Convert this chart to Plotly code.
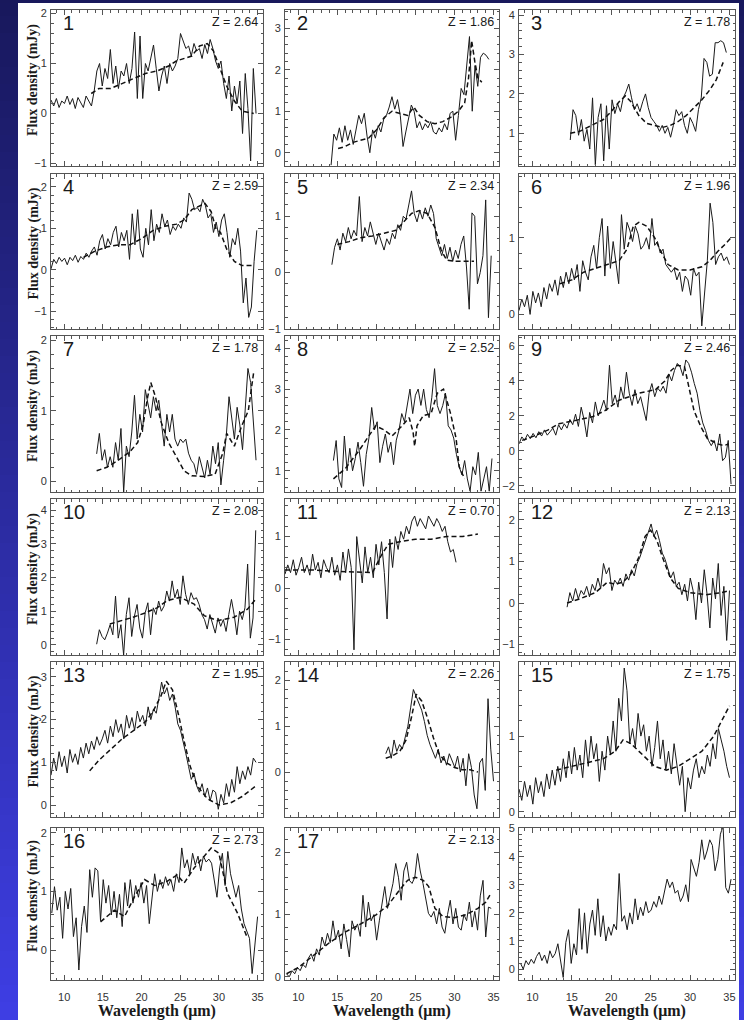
import numpy as np
import plotly.graph_objects as go

# ---------------- data ----------------
panel_labels = ["1", "2", "3", "4", "5", "6", "7", "8", "9", "10", "11", "12",
                "13", "14", "15", "16", "17", ""]
redshifts = ["2.64", "1.86", "1.78", "2.59", "2.34", "1.96", "1.78", "2.52", "2.46",
             "2.08", "0.70", "2.13", "1.95", "2.26", "1.75", "2.73", "2.13", ""]
y_ranges = [[-1.05, 2.07], [-0.32, 3.44], [0.17, 4.13], [-1.43, 2.31], [-1.001, 1.75],
            [-0.19, 1.83], [-0.15, 2.06], [0.48, 4.3], [-2.35, 6.57], [-0.3, 4.33],
            [-1.3, 1.73], [-1.25, 2.5], [-0.28, 3.35], [-0.98, 2.4], [-0.07, 1.98],
            [-0.51, 2.08], [-0.05, 2.39], [-0.39, 5.02]]
y_dticks = [1, 1, 1, 1, 1, 1, 1, 1, 2, 1, 1, 1, 1, 1, 1, 1, 1, 1]
x_ticks = [10, 15, 20, 25, 30, 35]

# observed spectra: first / last wavelength (micron) and flux values (mJy)
spec_start = [8.3, 14.2, 14.8, 8.3, 14.3, 8.3, 14.2, 14.5, 8.3, 14.2, 8.3, 14.4,
              8.3, 21.2, 8.3, 8.4, 8.5, 8.5]
spec_end = [34.8, 34.4, 34.6, 34.9, 34.7, 35.0, 34.8, 34.8, 35.2, 34.76, 30.2, 35.0,
            34.8, 35.0, 35.0, 35.0, 34.7, 35.2]

spec_01 = [0.27, 0.15, 0.3, 0.12, 0.25, 0.2, 0.35, 0.18, 0.3, 0.1, 0.32, 0.22, 0.12, 0.35, 0.25, 0.15,
           0.45, 0.85, 1.0, 0.55, 0.9, 0.7, 1.28, 0.6, 0.95, 0.5, 0.85, 0.75, 1.0, 0.6, 0.9,
           1.63, 0.3, 1.55, 0.3, 1.0, 0.85,
           1.1, 1.37, 0.9, 0.45, 0.75, 0.95, 0.6, 1.0, 0.85,
           0.95, 1.1, 1.6, 1.45, 1.3, 1.35,
           1.15, 1.4, 1.25, 1.3, 1.1, 1.38, 1.2, 1.48, 1.3, 1.05,
           0.9, 1.05, 0.6, 0.3, 0.75, 0.05, 0.55, 0.2, 0.65, -0.4, 0.8, 0.1, -0.95, 0.9, 0.0]
spec_02 = [-0.3, 0.45, 0.3, 0.6, 0.25, 0.65,
           0.3, 0.55, 0.2, 0.6, 0.9, 0.7,
           0.95, 0.4, 0.0, 0.55, 0.35, 0.65, 0.5,
           0.8, 0.9, 1.1, 1.35, 1.05, 1.28, 0.9,
           0.15, 0.5, 0.85, 1.15, 1.0, 0.6, 0.75,
           0.55, 0.7, 0.6, 0.75, 0.5, 0.45, 0.6, 0.5, 0.7, 0.55, 0.95,
           1.0, 0.3, 0.9, 1.55, 1.4, 2.1, 2.8, 1.0, 2.1, 1.6, 2.3, 2.4, 2.35, 2.25]
spec_03 = [0.83, 1.6, 1.45, 0.95, 1.35, 0.8, 1.1,
           0.6, 1.9, 0.2, 1.4, 1.75, 0.3, 1.7, 0.6, 1.85, 1.5,
           1.75, 1.55, 1.9, 2.05, 2.25, 1.9, 1.6, 1.75, 1.55,
           1.8, 2.0, 1.65, 1.4, 1.3, 1.2, 1.05, 1.2, 1.0, 1.15,
           0.9, 1.2, 1.6, 1.45, 1.55, 1.2, 1.0, 1.4, 1.25, 1.05,
           1.6, 1.9, 2.9, 2.8, 2.45, 2.5, 3.3, 3.3, 3.35, 3.3, 3.05]
spec_04 = [0.02, 0.25, 0.15, 0.3, 0.2, 0.28, 0.12, 0.3, 0.22, 0.35, 0.18, 0.32, 0.25, 0.4,
           0.3, 0.45, 0.55, 0.35, 0.7, 0.85, 0.5, 0.75, 0.6, 0.9,
           1.05, 0.55, 0.9, 0.7, 0.95, 0.25, 1.35, 0.6, 1.45, 0.5, 0.3,
           1.0, 0.6, 1.45, 0.7, 1.1, 0.9, 1.35, 1.05, 1.2,
           0.85, 1.05, 0.95, 1.1, 1.0, 1.25, 1.15, 1.85, 1.7, 1.45,
           1.5, 1.4, 1.7, 1.55, 1.25, 1.35, 0.9, 1.15, 0.8, 1.2,
           1.35, 0.9, 0.3, 0.75, 0.6, 1.0, 0.45, -0.8, -0.2, -1.15, -0.9, 0.2, 0.95]
spec_05 = [0.14, 0.45, 0.6, 0.4, 0.7, 0.55, 0.8, 0.6, 0.75,
           0.65, 1.35, 0.55, 0.8, 0.65, 0.9, 0.7, 0.5, 0.7,
           0.55, 0.4, 0.6, 0.5, 0.7, 0.6, 0.85, 0.75, 1.0, 0.95,
           1.2, 1.45, 1.05, 0.9, 1.1, 0.95, 1.15, 1.0, 1.2, 1.05,
           0.6, 0.45, 0.3, 0.5, 0.25, 0.45, 0.2, 0.4, 0.25, 0.5,
           0.65, 0.1, -0.65, 1.06, 1.0, -0.2, 0.0, 0.3, 1.29, -0.8, 0.3]
spec_06 = [0.05, 0.2, 0.1, 0.25, 0.0, 0.3, 0.15, 0.28, 0.1, 0.35,
           0.2, 0.4, 0.3, 0.45, 0.25, 0.5, 0.35, 0.55,
           0.4, 0.6, 0.45, 0.65, 0.3, 0.7, 0.55, 0.45, 0.75,
           0.9, 0.6, 1.0, 1.25, 0.5, 1.15, 0.6, 0.95, 0.7, 0.4,
           1.3, 0.85, 1.2, 1.1, 0.95, 1.15, 1.05, 0.85, 0.9,
           1.0, 0.85, 1.25, 0.9, 0.95, 0.8, 0.85, 0.65, 0.6,
           0.55, 0.6, 0.45, 0.55, 0.3, 0.5, 0.45, 0.25, 0.6, 0.5,
           0.55, -0.15, 0.3, 0.7, 1.45, 1.2, 0.65, 0.75, 0.8, 0.7, 0.75, 0.65]
spec_07 = [0.39, 0.68, 0.3, 0.45, 0.2, 0.35, 0.2, 0.55,
           0.3, 0.75, -0.15, 0.5, 0.35, 0.7, 1.22, 0.6, 0.95,
           0.7, 1.3, 1.1, 0.9, 1.2, 1.0, 1.15, 0.85, 0.5,
           0.95, 0.7, 0.95, 0.6, 0.5, 0.6, 0.55, 0.6, 0.4, 0.3,
           0.25, 0.1, 0.35, 0.2, 0.05, 0.3, 0.1, 0.5, 0.25, 0.55, -0.05,
           0.3, 0.65, 1.2, 0.9, 0.6, 1.05, 0.8, 0.45, 1.0, 1.6, 1.4, 0.8, 0.3]
spec_08 = [1.25, 1.74, 0.8, 0.59, 1.85, 1.0, 1.55, 1.0, 1.3,
           1.7, 1.2, 0.62, 1.4, 1.8, 2.55, 2.0, 2.2, 1.2,
           1.6, 1.9, 1.45, 1.7, 1.15, 1.75, 2.0, 2.4, 2.2,
           2.6, 3.0, 2.4, 2.85, 3.0, 2.6, 3.0, 2.5, 2.3, 2.8,
           3.5, 2.6, 2.4, 2.6, 2.9, 2.1, 2.0, 1.8, 1.4, 1.1,
           0.9, 1.25, 0.8, 0.5, 1.1, 0.9, 1.45, 0.5, 0.8, 1.1, 0.5, 1.3]
spec_09 = [0.4, 0.8, 0.6, 0.95, 0.7, 1.0, 0.75, 1.1, 0.85, 1.2, 0.9,
           1.07, 1.3, 0.9, 1.5, 1.2, 1.55, 1.3, 1.8, 1.5,
           2.1, 1.4, 2.5, 1.8, 0.8, 2.2, 1.6, 2.8, 2.0,
           2.4, 2.9, 2.3, 4.9, 2.7, 3.2, 2.5, 3.66,
           3.0, 4.5, 3.3, 2.6, 3.5, 2.7, 3.1, 2.4, 1.74,
           3.3, 3.85, 3.1, 3.6, 3.4, 3.7, 3.3, 4.4,
           4.0, 4.6, 5.0, 4.8, 4.3, 5.2, 5.0, 4.5, 3.85, 3.3,
           2.3, 1.6, 1.16, 0.6, 0.3, 0.6, 0.0, 0.97, -0.56, -0.37, 0.6, -1.9]
spec_10 = [0.02, 0.45, 0.25, 0.15, 0.35, 0.6, 0.3,
           1.45, 0.2, 0.6, -0.3, 0.9, 1.4, 0.25,
           0.85, 1.2, 0.5, 0.2, 0.95, 1.25, 0.3, 1.1, 0.9,
           1.3, 1.0, 1.15, 1.6, 1.3, 1.9, 1.4, 1.65, 1.2,
           2.05, 1.5, 1.2, 1.55, 1.35, 1.4, 1.2, 0.9, 0.75,
           0.47, 0.9, 0.6, 0.35, 0.8, 0.55, 0.75, 0.4, 0.9, 1.35,
           0.9, 0.3, 1.0, 0.75, 1.1, 2.4, 0.2, 0.8, 3.4]
spec_11 = [0.27, 0.45, 0.3, 0.55, 0.25, 0.4, 0.6, 0.3,
           0.45, 0.25, 0.66, 0.35, 0.5, 0.2, 0.55, 0.4, 0.3,
           0.6, 0.25, 0.45, 0.15, 0.7, 0.3, 0.76, 0.4, -1.2,
           1.0, 0.5, 0.1, 0.8, 0.3, 0.6, 0.2, 0.85, 0.45,
           0.9, 0.3, -0.6, 0.95, 0.4, 1.0, 0.75, 1.1, 0.95,
           1.2, 1.05, 1.3, 1.4, 1.2, 1.35, 1.25, 1.15, 1.4, 1.3, 1.2,
           1.35, 1.25, 1.1, 1.2, 0.9, 0.7, 0.75, 0.5]
spec_12 = [-0.1, 0.25, 0.05, 0.35, 0.1, 0.3, 0.2, 0.4, 0.15,
           0.45, 0.3, 0.6, 0.35, 0.95, 0.7, 0.85, 0.3, 0.55,
           0.45, 0.6, 0.4, 0.7, 0.55, 0.8, 0.65, 0.95, 1.1,
           1.3, 1.5, 1.75, 1.9, 1.6, 1.75, 1.5, 1.2, 1.05,
           0.8, 0.6, 0.75, 0.4, 0.5, 0.2, 0.45, 0.05, 0.6, 0.3,
           -0.4, 0.5, 0.0, 0.8, 0.2, -0.6, 0.6, 0.1, 0.95, -0.3, 0.4, -0.9, 0.3]
spec_13 = [0.7, 1.1, 0.8, 1.25, 0.9, 1.15, 0.75, 1.3, 1.0, 1.2, 0.95,
           1.35, 1.1, 1.45, 1.2, 1.5, 1.3, 1.6, 1.4, 1.55,
           1.75, 1.45, 1.85, 1.6, 2.0, 1.7, 1.9, 1.55, 2.1,
           1.8, 2.05, 1.75, 2.2, 1.95, 2.1, 1.85, 2.3, 2.0,
           2.25, 2.15, 2.5, 2.88, 2.6, 2.75, 2.45, 2.6, 2.3,
           1.9, 1.75, 1.5, 1.2, 0.9, 0.6, 0.75, 0.45, 0.3,
           0.5, 0.2, 0.4, 0.1, 0.35, 0.3, -0.1, 0.25, 0.05, 0.5,
           0.2, 0.6, 0.3, 0.9, 0.5, 0.8, 0.6, 0.9, 0.7, 1.1, 1.0]
spec_14 = [0.4, 0.55, 0.3, 0.7, 0.45, 0.6, 0.5, 0.75,
           1.0, 1.4, 1.8, 1.65, 1.5, 1.35, 1.1, 0.8, 0.6,
           0.45, 0.3, 0.5, 0.2, 0.35, 0.15, 0.4, 0.25, 0.1,
           0.35, 0.0, 0.3, -0.3, 0.4, 0.1, -0.5, -0.8, 0.2, 0.3, -0.4, 1.6, 0.5, -0.2]
spec_15 = [0.3, 0.15, 0.4, 0.2, 0.35, 0.1, 0.45, 0.25, 0.4, 0.2, 0.5,
           0.3, 0.55, 0.35, 0.6, 0.4, 0.7, 0.45, 0.8, 0.5,
           0.85, 0.55, 0.75, 0.45, 0.95, 0.6, 1.0, 0.7, 0.9,
           0.4, 0.8, 0.55, 1.0, 0.75, 1.2, 0.8, 1.5, 1.2,
           1.9, 1.6, 0.9, 1.1, 0.85, 1.3, 1.0, 1.15, 0.8,
           1.0, 0.6, 0.85, 1.2, 0.7, 0.95, 0.55, 0.8, 0.5,
           0.9, 0.65, 0.35, 0.6, 0.0, 0.45, 0.3, 0.55, 0.7, 0.45,
           0.6, 0.5, 0.75, 0.6, 0.9, 0.7, 1.1, 0.95, 0.8, 0.6, 0.45]
spec_16 = [0.63, 1.08, 0.68, 0.9, 0.2, 1.0, 0.7, 1.05,
           0.23, 0.55, -0.34, 0.4, 0.75, 0.3,
           1.37, 0.9, 1.4, 1.35, 0.5, 1.2, 0.8, 1.1, 0.6,
           1.0, 0.55, 0.95, 0.4, 1.15, 0.75, 1.2, 0.8, 1.1,
           0.9, 1.15, 0.8, 1.1, 0.45, 0.9, 1.3, 1.0, 1.2,
           1.05, 1.25, 1.1, 1.2, 1.0, 1.3, 1.15, 1.74, 1.4,
           1.54, 1.3, 1.65, 1.45, 1.6, 1.35, 1.6, 1.5, 1.55,
           1.48, 1.2, 0.9, 1.4, 1.65, 1.1, 1.68, 1.3, 1.08,
           0.9, 1.1, 0.7, 0.45, 0.34, 0.2, -0.4, 0.1, 0.57]
spec_17 = [0.05, 0.0, 0.1, 0.05, 0.15, 0.1, 0.2,
           0.15, 0.3, 0.37, 0.25, 0.45, 0.35,
           0.64, 0.5, 0.7, 0.55, 0.9, 0.6,
           0.75, 0.45, 0.85, 0.6, 0.32, 0.9, 0.75,
           0.85, 0.65, 1.31, 0.8, 1.2, 0.9, 1.0,
           0.59, 0.9, 1.2, 1.45, 1.1, 1.3, 1.5,
           1.82, 1.6, 1.23, 1.7, 1.84, 1.55, 1.5,
           1.6, 1.98, 1.7, 1.5, 1.25, 1.02, 0.96,
           1.05, 0.85, 1.1, 0.8, 0.7, 1.0, 1.23, 0.85, 1.1,
           0.8, 0.75, 1.0, 0.9, 1.2, 0.8, 1.05, 0.75, 1.3, 1.55, 0.64, 1.12, 1.1]
spec_18 = [0.2, 0.0, 0.3, 0.15, 0.35, 0.2, 0.45,
           0.6, 0.3, 0.5, 0.2, 0.65, 0.4,
           0.55, 0.9, 0.3, -0.3, 0.95, 1.4,
           0.2, 0.9, 0.5, 2.15, 0.7, 2.0,
           0.56, 1.6, 2.1, 1.2, 2.5, 1.15,
           1.9, 1.0, 1.5, 1.2, 1.6, 1.4,
           3.4, 1.7, 1.9, 1.4, 2.0, 1.6,
           2.5, 1.75, 2.2, 1.9, 2.4, 2.0,
           2.1, 2.4, 2.2, 2.6, 2.3, 2.8,
           3.2, 2.9, 3.1, 2.7, 2.8, 2.4,
           2.6, 3.0, 2.4, 3.9, 3.6, 3.3,
           3.8, 4.6, 3.9, 4.2, 4.6, 4.4,
           3.5, 3.9, 4.8, 5.1, 2.9, 2.7, 3.2]

# template (model) fits, dashed
model_wl_01 = [13.5, 14.5, 16, 17.5, 19, 20.5, 22, 23.5, 24.5, 25.5, 26.5, 27.5, 28.5, 29.3, 30, 31, 32, 33, 34.5]
model_fx_01 = [0.4, 0.5, 0.5, 0.6, 0.7, 0.8, 0.85, 0.95, 1.05, 1.1, 1.15, 1.35, 1.4, 1.25, 0.95, 0.55, 0.25, 0.05, 0.0]
model_wl_02 = [15.1, 16, 17, 18, 19, 20, 21, 22, 23, 24, 24.8, 25.5, 26.5, 27.5, 28.5, 29.5, 30.5, 31.3, 31.8, 32.2, 32.6, 33, 33.5]
model_fx_02 = [0.1, 0.15, 0.25, 0.3, 0.35, 0.55, 0.85, 1.0, 0.95, 0.9, 1.1, 0.9, 0.75, 0.7, 0.75, 0.85, 1.0, 1.2, 1.8, 2.7, 2.2, 1.8, 1.7]
model_wl_03 = [14.8, 16, 17, 18, 19, 20, 21, 21.8, 22.5, 23.5, 24.5, 25.5, 26.5, 27.5, 28.5, 29.5, 30.5, 31.5, 32.5, 33.3, 34.2]
model_fx_03 = [1.0, 1.05, 1.15, 1.25, 1.35, 1.55, 1.8, 1.95, 1.8, 1.45, 1.25, 1.2, 1.15, 1.2, 1.3, 1.45, 1.65, 1.85, 2.1, 2.35, 2.8]
model_wl_04 = [12.5, 14, 15.5, 17, 18.5, 20, 21.5, 23, 24.5, 25.5, 26.5, 27.5, 28.2, 29, 29.6, 30.2, 31, 32, 33, 34.5]
model_fx_04 = [0.3, 0.45, 0.55, 0.6, 0.6, 0.75, 0.95, 1.05, 1.1, 1.2, 1.45, 1.55, 1.6, 1.4, 1.0, 0.9, 0.5, 0.2, 0.1, 0.1]
model_wl_05 = [15, 16.5, 18, 19.5, 21, 22.5, 23.5, 24.5, 25.5, 26.5, 27.5, 28.3, 29, 30, 31, 32.5]
model_fx_05 = [0.5, 0.55, 0.62, 0.65, 0.7, 0.75, 0.9, 1.05, 1.1, 1.05, 0.8, 0.4, 0.22, 0.2, 0.2, 0.2]
model_wl_06 = [13.5, 15, 16.5, 18, 19.5, 21, 22, 22.8, 23.5, 24.5, 25.5, 26.3, 27.2, 28.5, 30, 31.5, 32.5, 33.5, 34.5, 35.2]
model_fx_06 = [0.4, 0.45, 0.55, 0.6, 0.65, 0.7, 0.85, 1.15, 1.2, 1.15, 1.0, 0.82, 0.65, 0.58, 0.58, 0.62, 0.7, 0.82, 0.92, 1.0]
model_wl_07 = [14.2, 15.5, 17, 18.5, 19.5, 20.2, 20.8, 21.2, 21.8, 22.5, 23.5, 24.5, 25.5, 26.5, 28, 29.5, 30.5, 31, 32, 33, 33.8, 34.5]
model_fx_07 = [0.15, 0.2, 0.3, 0.42, 0.55, 0.8, 1.2, 1.4, 1.2, 0.85, 0.55, 0.35, 0.15, 0.08, 0.07, 0.1, 0.4, 0.68, 0.5, 0.8, 1.0, 1.55]
model_wl_08 = [14.5, 16, 17.8, 19.9, 21, 22, 23.3, 24.2, 24.7, 24.9, 25.2, 26, 27, 27.8, 28.6, 29.5, 30.2, 30.6, 31.3]
model_fx_08 = [0.8, 1.05, 1.5, 2.1, 2.0, 1.85, 2.1, 2.3, 1.95, 1.6, 2.1, 2.35, 2.4, 2.9, 3.0, 2.4, 1.8, 1.1, 0.8]
model_wl_09 = [8.7, 10.5, 12, 13.35, 15, 16.5, 17.6, 19.2, 21.0, 22.3, 23.5, 25.6, 26.8, 27.6, 28.4, 29.3, 29.9, 30.5, 31.4, 32.2, 33.5, 34.3, 34.9]
model_fx_09 = [0.6, 0.9, 1.2, 1.55, 1.7, 1.85, 1.95, 2.3, 2.9, 3.1, 3.3, 3.5, 4.0, 4.6, 4.9, 4.8, 3.5, 2.3, 1.35, 0.7, 0.4, 0.3, 0.4]
model_wl_10 = [15.9, 17.5, 18.9, 20.5, 22, 23.3, 25.0, 26.8, 28.1, 29.8, 31.95, 33.7, 34.76]
model_fx_10 = [0.62, 0.72, 0.82, 0.95, 1.1, 1.31, 1.41, 1.21, 0.87, 0.72, 0.82, 1.06, 1.36]
model_wl_11 = [8.3, 10, 12, 14, 16, 18, 19.5, 20.5, 21.5, 23, 25, 27, 29, 31, 33]
model_fx_11 = [0.35, 0.35, 0.35, 0.33, 0.32, 0.3, 0.3, 0.6, 0.85, 0.9, 0.95, 0.95, 1.0, 1.0, 1.05]
model_wl_12 = [14.4, 16, 18, 19.5, 20.5, 21.5, 22.5, 23.5, 24.3, 25, 25.8, 26.5, 27.5, 28.5, 30, 32, 34, 35]
model_fx_12 = [0.0, 0.1, 0.25, 0.5, 0.45, 0.5, 0.7, 1.1, 1.6, 1.75, 1.5, 1.1, 0.6, 0.35, 0.25, 0.2, 0.25, 0.3]
model_wl_13 = [13.3, 14.5, 16, 17.5, 19, 20.5, 21.5, 22.5, 23.2, 24, 24.8, 25.5, 26.3, 27.2, 28.5, 30, 31.5, 33, 34.8]
model_fx_13 = [0.8, 1.05, 1.3, 1.55, 1.75, 1.95, 2.2, 2.55, 2.9, 2.7, 2.1, 1.5, 0.9, 0.45, 0.15, 0.0, 0.05, 0.2, 0.45]
model_wl_14 = [21.2, 22, 23, 23.8, 24.5, 25.1, 25.8, 26.5, 27.3, 28, 29, 30, 31, 32, 33]
model_fx_14 = [0.3, 0.35, 0.45, 0.7, 1.2, 1.7, 1.55, 1.2, 0.75, 0.4, 0.2, 0.1, 0.05, 0.05, 0.0]
model_wl_15 = [13, 15, 17, 19, 20.5, 21.5, 22.5, 23.5, 24.5, 25.5, 27, 28.5, 30, 31.5, 33, 34, 35]
model_fx_15 = [0.55, 0.6, 0.65, 0.7, 0.8, 0.95, 0.9, 0.8, 0.7, 0.6, 0.55, 0.6, 0.7, 0.8, 1.0, 1.2, 1.4]
model_wl_16 = [14.7, 16.5, 17.8, 19.1, 20.4, 21.7, 23.3, 24.6, 25.5, 26.8, 28.1, 29, 30, 31.1, 32.4, 33.7]
model_fx_16 = [0.48, 0.68, 0.57, 0.91, 1.2, 1.1, 1.17, 1.28, 1.14, 1.4, 1.6, 1.74, 1.65, 0.97, 0.63, 0.2]
model_wl_17 = [8.5, 10, 12, 14, 16, 18, 20, 21.5, 23, 24, 25, 26, 26.7, 27.5, 28.5, 30, 31.5, 33, 34, 34.7]
model_fx_17 = [0.05, 0.15, 0.35, 0.55, 0.72, 0.85, 1.0, 1.15, 1.4, 1.55, 1.6, 1.55, 1.45, 1.1, 0.97, 0.95, 1.0, 1.1, 1.2, 1.35]

spectra = [spec_01, spec_02, spec_03, spec_04, spec_05, spec_06, spec_07, spec_08, spec_09,
           spec_10, spec_11, spec_12, spec_13, spec_14, spec_15, spec_16, spec_17, spec_18]
models = [(model_wl_01, model_fx_01), (model_wl_02, model_fx_02), (model_wl_03, model_fx_03),
          (model_wl_04, model_fx_04), (model_wl_05, model_fx_05), (model_wl_06, model_fx_06),
          (model_wl_07, model_fx_07), (model_wl_08, model_fx_08), (model_wl_09, model_fx_09),
          (model_wl_10, model_fx_10), (model_wl_11, model_fx_11), (model_wl_12, model_fx_12),
          (model_wl_13, model_fx_13), (model_wl_14, model_fx_14), (model_wl_15, model_fx_15),
          (model_wl_16, model_fx_16), (model_wl_17, model_fx_17), None]

# ---------------- layout geometry (pixels) ----------------
W, H = 744, 1020
col_px = [(51, 263), (285, 499), (519, 735)]
row_px = [(10, 166), (174, 329), (336, 492), (499, 655), (662, 817), (828, 980)]
X_RANGE = [8.3, 35.7]
AX_COLOR = "#555555"
TICK_FONT = dict(family="Liberation Sans, Arial, sans-serif", size=11, color="#333333")

fig = go.Figure()
layout = dict(width=W, height=H, autosize=False, margin=dict(l=0, r=0, t=0, b=0, pad=0),
              paper_bgcolor="white", plot_bgcolor="white", showlegend=False)
annotations = []
shapes = []

# background: white page with blue slide edges
def mix(c0, c1, t):
    return "rgb(%d,%d,%d)" % tuple(round(a + (b - a) * t) for a, b in zip(c0, c1))

top_c, bot_c = (24, 24, 92), (62, 62, 228)
nb = 60
for k in range(nb):
    y0 = 1 - (k + 1) / nb
    y1 = 1 - k / nb
    col = mix(top_c, bot_c, (k + 0.5) / nb)
    for (xa, xb) in [(0, 18), (739, 744)]:
        shapes.append(dict(type="rect", xref="paper", yref="paper", x0=xa / W, x1=xb / W,
                           y0=y0, y1=y1 + 0.001, fillcolor=col, line=dict(width=0), layer="below"))
shapes.append(dict(type="rect", xref="paper", yref="paper", x0=0, x1=1,
                   y0=1 - 3 / H, y1=1, fillcolor=mix(top_c, bot_c, 0.0),
                   line=dict(width=0), layer="below"))

for i in range(18):
    r, c = divmod(i, 3)
    n = i + 1
    xn = "x" if n == 1 else f"x{n}"
    yn = "y" if n == 1 else f"y{n}"
    xl, xr = col_px[c]
    yt, yb = row_px[r]

    flux = spectra[i]
    wl = np.linspace(spec_start[i], spec_end[i], len(flux))
    fig.add_trace(go.Scatter(x=wl, y=flux, mode="lines", xaxis=xn, yaxis=yn,
                             line=dict(color="#1a1a1a", width=1), hoverinfo="skip"))
    if models[i] is not None:
        mw, mf = models[i]
        fig.add_trace(go.Scatter(x=mw, y=mf, mode="lines", xaxis=xn, yaxis=yn,
                                 line=dict(color="#111111", width=1.5, dash="5px,3px"),
                                 hoverinfo="skip"))

    dt = y_dticks[i]
    xaxis = dict(domain=[xl / W, xr / W], anchor=yn, range=X_RANGE,
                 showgrid=False, zeroline=False, showline=True, linecolor=AX_COLOR,
                 linewidth=1, mirror="allticks", ticks="inside", ticklen=5,
                 tickcolor=AX_COLOR, tickwidth=1, tickmode="array", tickvals=x_ticks,
                 ticktext=[str(v) for v in x_ticks],
                 minor=dict(ticks="inside", ticklen=2.5, dtick=1, tick0=0,
                            tickcolor=AX_COLOR, tickwidth=1, showgrid=False),
                 showticklabels=(r == 5), tickfont=TICK_FONT, fixedrange=True,
                 automargin=False)
    if r == 5:
        xaxis["ticklabelstandoff"] = 7
    yaxis = dict(domain=[1 - yb / H, 1 - yt / H], anchor=xn, range=y_ranges[i],
                 showgrid=False, zeroline=False, showline=True, linecolor=AX_COLOR,
                 linewidth=1, mirror="allticks", ticks="inside", ticklen=5,
                 tickcolor=AX_COLOR, tickwidth=1, dtick=dt, tick0=0,
                 minor=dict(ticks="inside", ticklen=2.5, dtick=dt / (4 if dt == 2 else 5),
                            tick0=0, tickcolor=AX_COLOR, tickwidth=1, showgrid=False),
                 tickfont=TICK_FONT, ticklabelstandoff=1, fixedrange=True,
                 automargin=False)
    layout["xaxis" if n == 1 else f"xaxis{n}"] = xaxis
    layout["yaxis" if n == 1 else f"yaxis{n}"] = yaxis

    if panel_labels[i]:
        annotations.append(dict(text=panel_labels[i], xref="paper", yref="paper",
                                x=(xl + 10) / W, y=1 - (yt + 13) / H, xanchor="left",
                                yanchor="middle", showarrow=False,
                                font=dict(family="Liberation Sans, Arial, sans-serif",
                                          size=20, color="#1a1a1a")))
    if redshifts[i]:
        annotations.append(dict(text="Z = " + redshifts[i], xref="paper", yref="paper",
                                x=(xr - 3) / W, y=1 - (yt + 12) / H, xanchor="right",
                                yanchor="middle", showarrow=False,
                                font=dict(family="Liberation Sans, Arial, sans-serif",
                                          size=12.5, color="#1a1a1a")))

for (yt, yb) in row_px:
    annotations.append(dict(text="<b>Flux density (mJy)</b>", xref="paper", yref="paper",
                            x=33 / W, y=1 - ((yt + yb) / 2 - 8) / H, textangle=-90,
                            xanchor="center", yanchor="middle", showarrow=False,
                            font=dict(family="Liberation Serif, Times New Roman, serif",
                                      size=14, color="#1a1a1a")))
for (xl, xr) in col_px:
    annotations.append(dict(text="<b>Wavelength (\u03bcm)</b>", xref="paper", yref="paper",
                            x=(xl + xr) / 2 / W, y=1 - 1011 / H, xanchor="center",
                            yanchor="middle", showarrow=False,
                            font=dict(family="Liberation Serif, Times New Roman, serif",
                                      size=16, color="#1a1a1a")))

layout["annotations"] = annotations
layout["shapes"] = shapes
fig.update_layout(**layout)
fig.write_html("out.html",
               config={"displayModeBar": False, "responsive": False},
               post_script="document.body.style.margin='0';"
                           "document.body.style.overflow='hidden';")
